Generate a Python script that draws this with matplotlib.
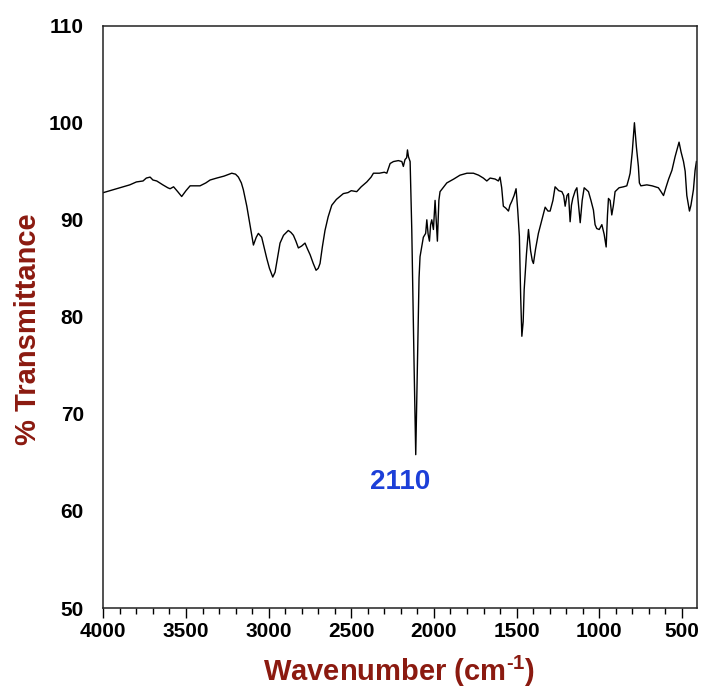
import matplotlib
matplotlib.use("Agg")
import matplotlib.pyplot as plt
from matplotlib.ticker import MultipleLocator

plt.rcParams['font.family'] = ['Liberation Sans', 'DejaVu Sans']
plt.rcParams['mathtext.fontset'] = 'custom'
plt.rcParams['mathtext.rm'] = 'Liberation Sans:bold'
plt.rcParams['mathtext.bf'] = 'Liberation Sans:bold'
plt.rcParams['mathtext.default'] = 'bf'

# IR spectrum: wavenumber (cm^-1) and % transmittance
wavenumber = [
    4000, 3960, 3920, 3880, 3840, 3800, 3760, 3740, 3717, 3700, 3677, 3640,
    3610, 3596, 3575, 3550, 3526, 3500, 3475, 3415, 3380, 3354, 3314, 3270,
    3223, 3200, 3183, 3165, 3153, 3132, 3110, 3092, 3075, 3062, 3042, 3025,
    3011, 2995, 2975, 2961, 2945, 2931, 2910, 2881, 2865, 2850, 2835, 2820,
    2800, 2780, 2765, 2749, 2730, 2713, 2700, 2689, 2675, 2659, 2640, 2618,
    2590, 2548, 2520, 2500, 2467, 2440, 2406, 2380, 2366, 2330, 2300, 2285,
    2265, 2245, 2215, 2194, 2185, 2175, 2165, 2160, 2154, 2144, 2134, 2120,
    2110, 2100, 2090, 2084, 2064, 2050, 2043, 2035, 2027, 2020, 2013, 2003,
    1993, 1985, 1979, 1970, 1963, 1922, 1880, 1842, 1800, 1761, 1730, 1701,
    1680, 1660, 1630, 1610, 1600, 1590, 1580, 1565, 1549, 1540, 1529, 1515,
    1503, 1493, 1483, 1475, 1468, 1460, 1454, 1440, 1428, 1415, 1405, 1398,
    1385, 1368, 1350, 1327, 1310, 1297, 1280, 1267, 1245, 1226, 1215, 1206,
    1195, 1186, 1176, 1168, 1160, 1145, 1135, 1125, 1115, 1103, 1091, 1065,
    1050, 1035, 1025, 1015, 1000, 984, 970, 958, 950, 944, 934, 924,
    914, 904, 880, 853, 833, 820, 813, 800, 787, 775, 763, 757,
    748, 712, 680, 660, 642, 630, 611, 595, 580, 560, 541, 530,
    517, 505, 490, 480, 470, 454, 445, 430, 420, 412,
]
transmittance = [
    92.8, 93.0, 93.2, 93.4, 93.6, 93.9, 94.0, 94.3, 94.4, 94.1, 94.0, 93.6,
    93.3, 93.2, 93.4, 92.9, 92.4, 93.0, 93.5, 93.5, 93.8, 94.1, 94.3, 94.5,
    94.8, 94.7, 94.4, 93.8, 93.1, 91.4, 89.2, 87.4, 88.2, 88.6, 88.2, 87.0,
    86.0, 85.0, 84.1, 84.6, 86.2, 87.6, 88.4, 88.9, 88.7, 88.4, 87.8, 87.1,
    87.3, 87.6, 87.0, 86.4, 85.5, 84.8, 85.0, 85.5, 87.2, 88.9, 90.3, 91.5,
    92.1, 92.7, 92.8, 93.0, 92.9, 93.4, 93.9, 94.4, 94.8, 94.8, 94.9, 94.8,
    95.8, 96.0, 96.1, 96.0, 95.5, 96.2, 96.4, 97.2, 96.5, 96.0, 89.0, 75.0,
    65.8, 75.0, 84.0, 86.2, 88.2, 88.6, 90.0, 88.5, 87.8, 89.5, 90.0, 89.0,
    92.0, 89.5, 87.8, 92.0, 92.9, 93.8, 94.2, 94.6, 94.8, 94.8, 94.6, 94.3,
    94.0, 94.3, 94.2, 94.0, 94.4, 93.3, 91.4, 91.2, 90.9, 91.5, 91.9, 92.5,
    93.2, 91.0, 88.3, 82.0, 78.0, 79.5, 82.8, 86.5, 89.0, 86.8, 85.8, 85.5,
    87.0, 88.6, 89.8, 91.3, 90.9, 90.9, 92.0, 93.4, 93.0, 92.9, 92.5, 91.4,
    92.5, 92.7, 89.8, 91.5, 92.2, 93.0, 93.3, 91.5, 89.7, 92.0, 93.3, 92.9,
    92.0, 91.0, 89.5, 89.1, 89.0, 89.5, 88.5, 87.2, 90.5, 92.2, 92.0, 90.5,
    91.5, 92.9, 93.3, 93.4, 93.5, 94.3, 94.8, 97.0, 100.0, 97.5, 95.5, 93.8,
    93.5, 93.6, 93.5, 93.4, 93.3, 93.0, 92.5, 93.4, 94.2, 95.1, 96.5, 97.2,
    98.0, 97.0, 96.0, 95.0, 92.5, 90.9, 91.5, 93.1, 95.1, 96.0,
]

peak_label = "2110"
peak_position = 2110

fig = plt.figure(figsize=(7.02, 6.96), dpi=100)
ax = fig.add_axes([0.1472, 0.1264, 0.8453, 0.8367])

ax.plot(wavenumber, transmittance, color="black", linewidth=1.0)

ax.set_xlim(4000, 410)
ax.set_ylim(50, 110)
ax.xaxis.set_major_locator(MultipleLocator(500))
ax.xaxis.set_minor_locator(MultipleLocator(100))
ax.yaxis.set_major_locator(MultipleLocator(10))

ax.tick_params(axis="x", which="major", direction="out", length=7, width=1,
               pad=3, labelsize=15)
ax.tick_params(axis="x", which="minor", direction="out", length=4, width=1)
ax.tick_params(axis="y", which="both", length=0, pad=14, labelsize=15)
for lab in ax.get_xticklabels() + ax.get_yticklabels():
    lab.set_fontweight("bold")

for sp in ax.spines.values():
    sp.set_linewidth(1.1)
    sp.set_color("#222222")

label_color = "#8b1a10"
ax.set_xlabel(r"Wavenumber (cm$^{\text{-1}}$)", fontsize=21, fontweight="bold",
              color=label_color)
ax.xaxis.set_label_coords(0.498, -0.078)
ax.set_ylabel("% Transmittance", fontsize=21, fontweight="bold",
              color=label_color)
ax.yaxis.set_label_coords(-0.103, 0.479)

ax.text(peak_position + 95, 63.0, peak_label, color="#1c3fd8", fontsize=20,
        fontweight="bold", ha="center", va="center")

fig.savefig("out.png", dpi=100)
